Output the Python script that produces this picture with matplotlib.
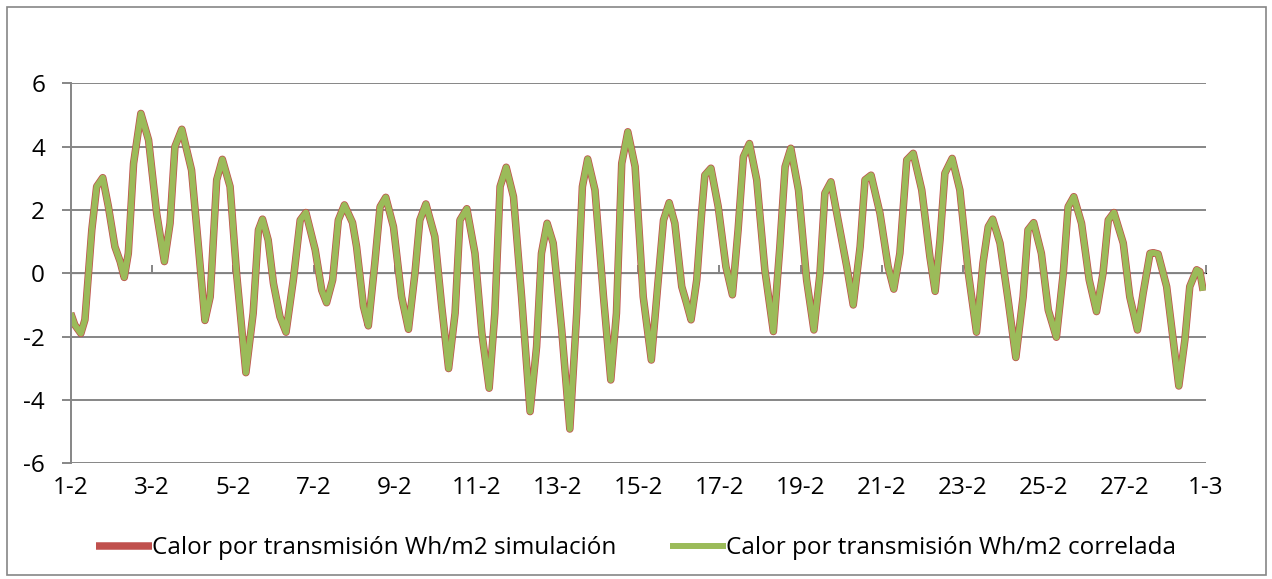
import matplotlib.pyplot as plt
from matplotlib.patches import Rectangle

# Valores (día desde 1-2, valor Wh/m2)
dias = [0.00, 0.10, 0.25, 0.35, 0.52, 0.64, 0.79, 0.93, 1.09, 1.22, 1.32, 1.42, 1.55, 1.73, 1.92,
        2.12, 2.31, 2.45, 2.57, 2.74, 2.98, 3.15, 3.31, 3.44, 3.60, 3.74, 3.93, 4.09, 4.32, 4.50,
        4.63, 4.73, 4.87, 5.00, 5.16, 5.31, 5.49, 5.66, 5.80, 6.03, 6.19, 6.31, 6.46, 6.60, 6.75,
        6.95, 7.05, 7.22, 7.34, 7.50, 7.63, 7.77, 7.96, 8.16, 8.33, 8.49, 8.61, 8.76, 8.98, 9.15,
        9.32, 9.48, 9.60, 9.77, 9.97, 10.14, 10.32, 10.46, 10.59, 10.74, 10.92, 11.12, 11.33, 11.49,
        11.61, 11.75, 11.90, 12.11, 12.31, 12.48, 12.62, 12.75, 12.93, 13.14, 13.32, 13.46, 13.59,
        13.74, 13.92, 14.12, 14.32, 14.49, 14.62, 14.76, 14.90, 15.07, 15.19, 15.30, 15.44, 15.56,
        15.64, 15.79, 15.97, 16.16, 16.32, 16.46, 16.59, 16.74, 16.92, 17.12, 17.33, 17.49, 17.62,
        17.76, 17.95, 18.15, 18.33, 18.48, 18.60, 18.75, 18.97, 19.14, 19.30, 19.47, 19.59, 19.74,
        19.96, 20.16, 20.30, 20.45, 20.62, 20.78, 20.99, 21.19, 21.32, 21.44, 21.56, 21.74, 21.93,
        22.14, 22.34, 22.50, 22.63, 22.74, 22.92, 23.12, 23.31, 23.49, 23.61, 23.75, 23.94, 24.11,
        24.31, 24.48, 24.60, 24.74, 24.93, 25.12, 25.30, 25.46, 25.59, 25.73, 25.96, 26.12, 26.31,
        26.45, 26.62, 26.70, 26.82, 27.03, 27.19, 27.33, 27.48, 27.60, 27.77, 27.85, 27.93]

simulacion = [-1.26, -1.63, -1.90, -1.47, 1.37, 2.74, 3.02, 2.10, 0.84, 0.37, -0.13, 0.63, 3.47, 5.05, 4.21,
              1.89, 0.37, 1.58, 4.00, 4.55, 3.26, 0.84, -1.49, -0.74, 2.95, 3.60, 2.74, 0.00, -3.14, -1.26,
              1.37, 1.71, 1.05, -0.32, -1.37, -1.86, -0.21, 1.68, 1.92, 0.74, -0.53, -0.93, -0.21, 1.68, 2.16,
              1.60, 0.84, -1.05, -1.66, 0.32, 2.10, 2.40, 1.47, -0.74, -1.77, 0.00, 1.68, 2.19, 1.16, -1.05,
              -3.01, -1.26, 1.68, 2.04, 0.63, -1.89, -3.63, -1.26, 2.74, 3.35, 2.42, -0.74, -4.37, -2.32,
              0.63, 1.58, 0.95, -1.79, -4.92, -1.26, 2.74, 3.61, 2.63, -0.74, -3.37, -1.26, 3.47,
              4.47, 3.37, -0.74, -2.74, -0.21, 1.68, 2.23, 1.58, -0.42, -0.95, -1.47, -0.21, 1.89,
              3.10, 3.32, 2.10, 0.21, -0.68, 1.37, 3.68, 4.10, 2.95, 0.11, -1.84, 0.84, 3.37,
              3.95, 2.63, -0.21, -1.79, 0.00, 2.53, 2.89, 1.37, 0.21, -1.00, 0.84, 2.95, 3.10,
              1.89, 0.21, -0.50, 0.63, 3.58, 3.79, 2.63, 0.53, -0.57, 1.05, 3.16, 3.63, 2.63,
              0.00, -1.86, 0.32, 1.47, 1.71, 0.95, -0.84, -2.66, -0.74, 1.37, 1.60, 0.63, -1.16,
              -2.02, 0.00, 2.10, 2.42, 1.58, -0.21, -1.21, 0.00, 1.68, 1.92, 0.95, -0.74, -1.79,
              -0.63, 0.63, 0.65, 0.61, -0.42, -2.10, -3.56, -2.10, -0.42, 0.11, 0.05, -0.55]

correlada = list(simulacion)

ticks_x = [0, 2, 4, 6, 8, 10, 12, 14, 16, 18, 20, 22, 24, 26, 28]
etiquetas = ["1-2", "3-2", "5-2", "7-2", "9-2", "11-2", "13-2", "15-2",
             "17-2", "19-2", "21-2", "23-2", "25-2", "27-2", "1-3"]
ticks_y = [-6, -4, -2, 0, 2, 4, 6]

gris = "#868686"
plt.rcParams['font.family'] = ['Open Sans', 'DejaVu Sans']
plt.rcParams['axes.unicode_minus'] = False

fig = plt.figure(figsize=(12.72, 5.79), dpi=100)
ax = fig.add_axes([0.0556, 0.2, 0.8925, 0.656])

ax.plot(dias, simulacion, color="#C0504D", lw=5.4, solid_joinstyle="round",
        solid_capstyle="butt", label="Calor por transmisión Wh/m2 simulación")
ax.plot(dias, correlada, color="#9BBB59", lw=4.3, solid_joinstyle="round",
        solid_capstyle="butt", label="Calor por transmisión Wh/m2 correlada")

ax.set_xlim(0, 28)
ax.set_ylim(-6, 6)
ax.set_yticks(ticks_y)
ax.set_xticks(ticks_x)
ax.set_xticklabels(etiquetas)
ax.grid(axis="y", color=gris, lw=1.4)
ax.set_axisbelow(True)
for s in ["top", "right", "bottom"]:
    ax.spines[s].set_visible(False)
ax.spines["left"].set_color(gris)
ax.spines["left"].set_linewidth(1.4)
ax.tick_params(axis="y", direction="out", length=6.5, width=1.4, color=gris,
               labelsize=17.5, pad=12)
ax.tick_params(axis="x", length=0, labelsize=17.5, pad=9)

# eje horizontal en el cero con sus marcas
sec = ax.secondary_xaxis(0.5)
sec.set_xticks(ticks_x)
sec.set_xticklabels([])
sec.spines["bottom"].set_color(gris)
sec.spines["bottom"].set_linewidth(1.4)
sec.tick_params(direction="out", length=6, width=1.4, color=gris)

fig.legend(loc="center", bbox_to_anchor=(0.5, 0.053), ncol=2, frameon=False,
           fontsize=17.5, handlelength=2.3, handletextpad=0.0, columnspacing=2.2)

fig.patches.append(Rectangle((0.0055, 0.007), 0.9897, 0.981, transform=fig.transFigure,
                             fill=False, edgecolor=gris, lw=1.2))

plt.savefig("out.png", dpi=100)
